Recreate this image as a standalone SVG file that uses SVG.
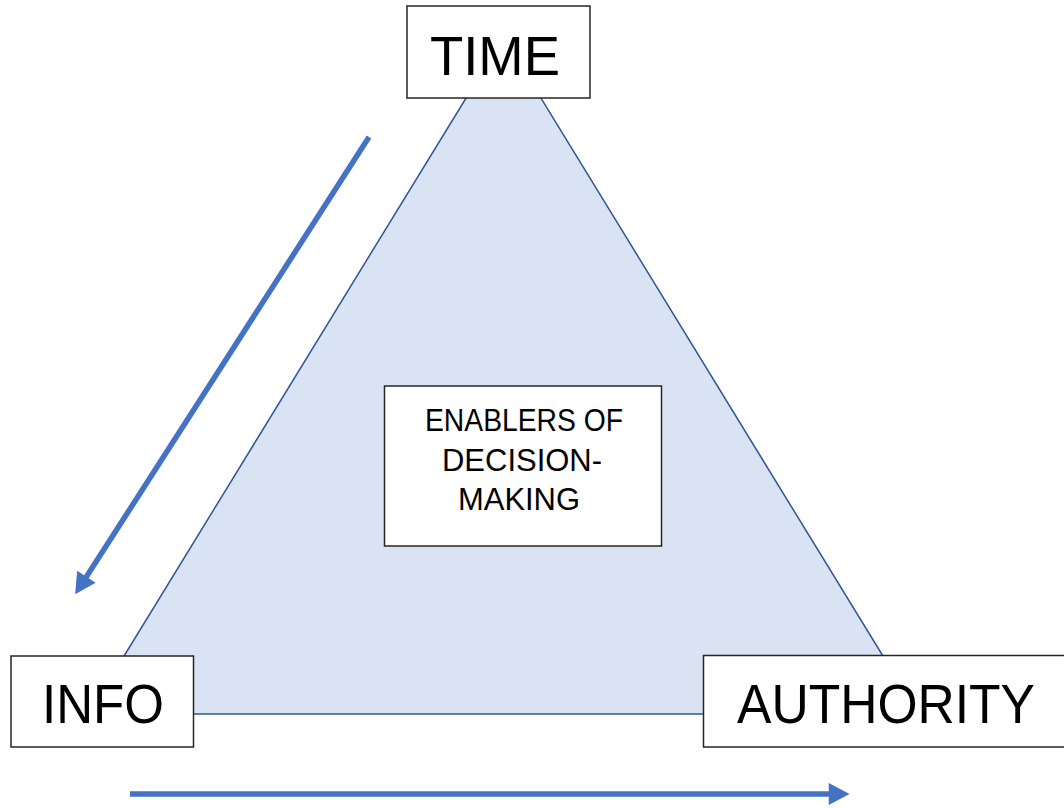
<svg xmlns="http://www.w3.org/2000/svg" width="1064" height="808" viewBox="0 0 1064 808">
<style>
.box{fill:#ffffff;stroke:#262626;stroke-width:1.5}
.lbl{font-family:"Liberation Sans",Arial,sans-serif;fill:#000000;text-anchor:middle}
.big{font-size:56px}
.small{font-size:32px}
.arrow{stroke:#4472c4;stroke-width:5.5;fill:none;marker-end:url(#head)}
</style>
<defs>
<marker id="head" markerUnits="userSpaceOnUse" markerWidth="22" markerHeight="22" viewBox="0 0 18 19" refX="8" refY="9.5" orient="auto">
<path d="M0,0 L18,9.5 L0,19 z" fill="#4472c4"/>
</marker>
</defs>
<rect width="1064" height="808" fill="#ffffff"/>
<g id="triangle">
<polygon points="503.5,37 918.5,714 88.5,714" fill="#dae3f3" stroke="#2f5597" stroke-width="1.5" stroke-linejoin="round"/>
</g>
<g id="connectors">
<line class="arrow" x1="369" y1="137" x2="81.4" y2="584.6"/>
<line class="arrow" x1="130" y1="794" x2="838" y2="794"/>
</g>
<g id="time">
<rect class="box" x="407" y="6" width="183" height="92"/>
<text class="lbl big" x="495" y="75" textLength="130" lengthAdjust="spacingAndGlyphs">TIME</text>
</g>
<g id="info">
<rect class="box" x="11" y="656" width="182.5" height="91"/>
<text class="lbl big" x="103" y="723" textLength="122" lengthAdjust="spacingAndGlyphs">INFO</text>
</g>
<g id="authority">
<rect class="box" x="703.5" y="655.5" width="370" height="91.5"/>
<text class="lbl big" x="886" y="723" textLength="298" lengthAdjust="spacingAndGlyphs">AUTHORITY</text>
</g>
<g id="enablers">
<rect class="box" x="384.5" y="386" width="277" height="160"/>
<text class="lbl small" x="524" y="431" textLength="198" lengthAdjust="spacingAndGlyphs">ENABLERS OF</text>
<text class="lbl small" x="522" y="471" textLength="160" lengthAdjust="spacingAndGlyphs">DECISION-</text>
<text class="lbl small" x="519" y="510" textLength="122" lengthAdjust="spacingAndGlyphs">MAKING</text>
</g>
</svg>
